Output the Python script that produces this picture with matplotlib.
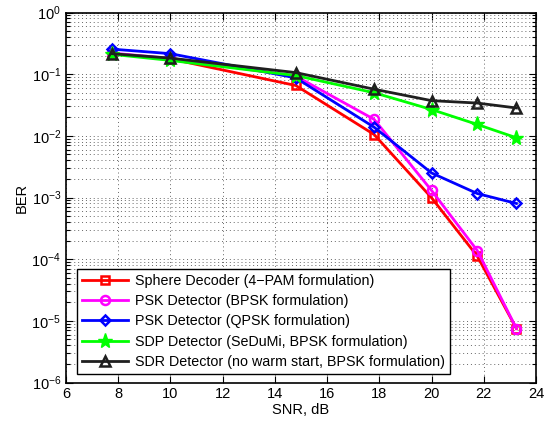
import matplotlib
matplotlib.use("Agg")
import matplotlib.pyplot as plt
from matplotlib.ticker import FixedLocator, NullFormatter, LogFormatterMathtext

plt.rcParams['font.family'] = ['Liberation Sans', 'DejaVu Sans']
plt.rcParams['mathtext.fontset'] = 'custom'
plt.rcParams['mathtext.rm'] = 'Liberation Sans'

snr = [7.75, 10.0, 14.8, 17.8, 20.0, 21.75, 23.25]
ber_sphere = [0.215, 0.177, 0.0655, 0.0105, 0.00099, 0.000112, 7.5e-6]
ber_psk_bpsk = [0.22, 0.18, 0.093, 0.0185, 0.0013, 0.000138, 7.5e-6]
ber_psk_qpsk = [0.255, 0.215, 0.087, 0.0138, 0.0025, 0.00116, 0.0008]
ber_sdp = [0.21, 0.167, 0.095, 0.05, 0.0267, 0.0153, 0.0093]
ber_sdr = [0.215, 0.182, 0.106, 0.057, 0.0372, 0.0340, 0.0283]

labels = [
    "Sphere Decoder (4\u2212PAM formulation)",
    "PSK Detector (BPSK formulation)",
    "PSK Detector (QPSK formulation)",
    "SDP Detector (SeDuMi, BPSK formulation)",
    "SDR Detector (no warm start, BPSK formulation)",
]
xticks = [6, 8, 10, 12, 14, 16, 18, 20, 22, 24]
yticks = [1e-6, 1e-5, 1e-4, 1e-3, 1e-2, 1e-1, 1e0]
yminor = [m * d for d in yticks[:-1] for m in range(2, 10)]

fig = plt.figure(figsize=(5.53, 4.25), dpi=100)
ax = fig.add_axes([66/553, 1 - 382.5/425, 470/553, 370/425])

styles = [
    (ber_sphere, (1, 0, 0), 's', 6),
    (ber_psk_bpsk, (1, 0, 1), 'o', 6.5),
    (ber_psk_qpsk, (0, 0, 1), 'D', 5.5),
    (ber_sdp, (0, 1, 0), '*', 11),
    (ber_sdr, (0.12, 0.12, 0.12), '^', 7.5),
]
for (vals, col, mk, ms), lab in zip(styles, labels):
    if mk == '*':
        ax.plot(snr, vals, color=col, lw=2.0, marker=mk, ms=ms, mfc=col, mec=col,
                mew=1.0, label=lab)
    else:
        ax.plot(snr, vals, color=col, lw=2.0, marker=mk, ms=ms, mfc='none', mec=col,
                mew=1.8, label=lab)

ax.set_yscale('log')
ax.set_xlim(6, 24)
ax.set_ylim(1e-6, 1e0)
ax.xaxis.set_major_locator(FixedLocator(xticks))
ax.yaxis.set_major_locator(FixedLocator(yticks))
ax.yaxis.set_major_formatter(LogFormatterMathtext())
ax.yaxis.set_minor_locator(FixedLocator(yminor))
ax.yaxis.set_minor_formatter(NullFormatter())

gkw = dict(linestyle=(0, (1, 3)), color='0.4', lw=0.7)
ax.grid(True, which='major', axis='both', **gkw)
ax.grid(True, which='minor', axis='y', **gkw)
ax.tick_params(which='both', direction='in', top=True, right=True, labelsize=10.5,
               width=0.8)
ax.tick_params(which='major', length=5)
ax.tick_params(which='minor', length=3)
for s in ax.spines.values():
    s.set_linewidth(1.2)
    s.set_color('black')

ax.set_xlabel("SNR, dB", fontsize=10.5, labelpad=1)
ax.set_ylabel("BER", fontsize=10.5, labelpad=2)

leg = ax.legend(loc='lower left', bbox_to_anchor=(0.023, 0.022), borderaxespad=0,
                fontsize=10.3, handlelength=3.2, fancybox=False, framealpha=1,
                edgecolor='black', borderpad=0.35, labelspacing=0.45,
                handletextpad=0.5)
leg.get_frame().set_linewidth(1.0)

fig.savefig("out.png", dpi=100)
